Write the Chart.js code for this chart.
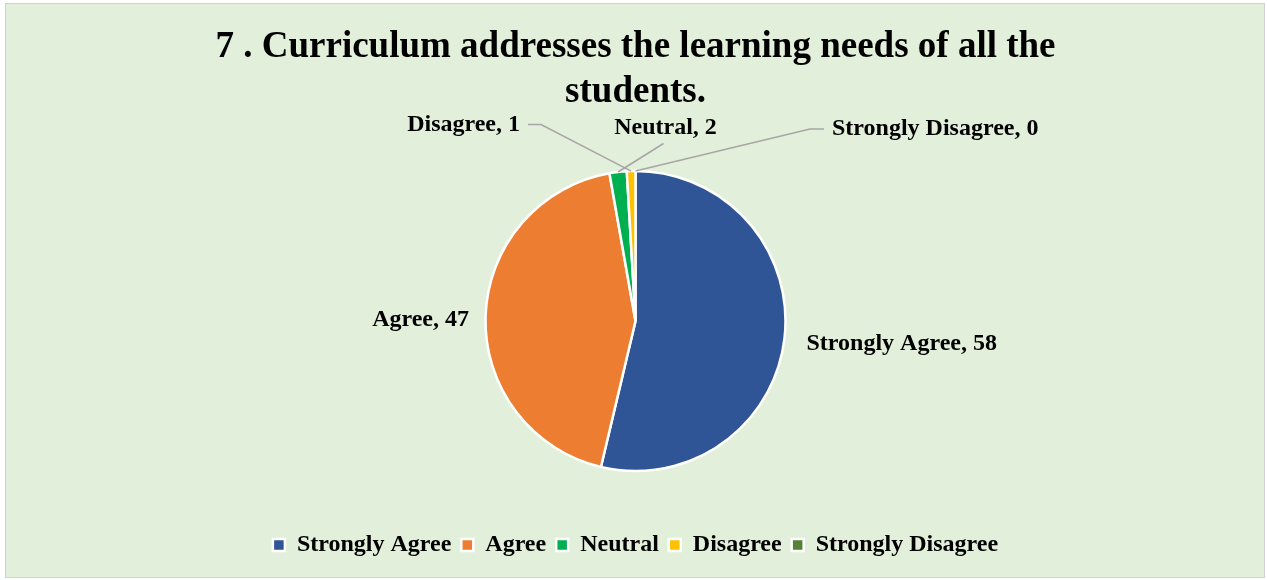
<!DOCTYPE html>
<html>
<head>
<meta charset="utf-8">
<script src="https://cdn.jsdelivr.net/npm/chart.js@4"></script>
<style>
  body { margin: 0; background: #fff; }
  #frame { position: absolute; left: 5px; top: 3px; width: 1258px; height: 573px; background: #E2EFDA; border: 1px solid #d2d2d2; }
  #pie { position: absolute; left: 0; top: 0; }
</style>
</head>
<body>
<div id="frame"></div>
<canvas id="pie" width="1267" height="580"></canvas>
<script>
var categorias = ['Strongly Agree', 'Agree', 'Neutral', 'Disagree', 'Strongly Disagree'];
var respostas  = [58, 47, 2, 1, 0];
var cores      = ['#2F5597', '#ED7D31', '#00B050', '#FFC000', '#548235'];
var titulo     = ['7 . Curriculum addresses the learning needs of all the', 'students.'];

// onde fica cada rotulo, em raios a partir do centro da pizza
var spots = [
  { dx: 1.14,  dy: 0.15,  align: 'left',   leader: false },
  { dx: -1.11, dy: -0.01, align: 'right',  leader: false },
  { dx: 0.20,  dy: -1.29, align: 'center', leader: true },
  { dx: -0.77, dy: -1.31, align: 'right',  leader: true },
  { dx: 1.31,  dy: -1.28, align: 'left',   leader: true }
];

var fonte = '"Liberation Serif", "Times New Roman", serif';

// Rotulos "Categoria, valor" com linhas de chamada
var rotulos = {
  id: 'rotulos',
  afterDatasetsDraw: function(chart) {
    var ctx = chart.ctx;
    var meta = chart.getDatasetMeta(0);
    ctx.save();
    ctx.font = 'bold 24px ' + fonte;
    ctx.textBaseline = 'middle';
    meta.data.forEach(function(arc, i) {
      var p = arc.getProps(['x', 'y', 'startAngle', 'endAngle', 'outerRadius'], true);
      var r = p.outerRadius;
      var mid = (p.startAngle + p.endAngle) / 2;
      var ax = p.x + Math.cos(mid) * r;
      var ay = p.y + Math.sin(mid) * r;
      var s = spots[i];
      var lx = p.x + s.dx * r;
      var ly = p.y + s.dy * r;

      if (s.leader) {
        ctx.strokeStyle = '#A6A6A6';
        ctx.lineWidth = 1.5;
        ctx.beginPath();
        if (s.align == 'right') {
          ctx.moveTo(lx + 8, ly);
          ctx.lineTo(lx + 21, ly);
        } else if (s.align == 'left') {
          ctx.moveTo(lx - 8, ly);
          ctx.lineTo(lx - 22, ly);
        } else {
          ctx.moveTo(lx - 2, ly + 16);
        }
        ctx.lineTo(ax, ay);
        ctx.stroke();
      }

      ctx.fillStyle = '#000';
      ctx.textAlign = s.align;
      ctx.fillText(categorias[i] + ', ' + respostas[i], lx, ly);
    });
    ctx.restore();
  }
};

var ctx = document.getElementById('pie').getContext('2d');
var grafico = new Chart(ctx, {
  type: 'pie',
  data: {
    labels: categorias,
    datasets: [{
      data: respostas,
      backgroundColor: cores,
      borderColor: '#ffffff',
      borderWidth: 2.5,
      radius: 150
    }]
  },
  options: {
    responsive: false,
    animation: false,
    layout: { padding: { left: 4, right: 0, top: 0, bottom: 13 } },
    plugins: {
      title: {
        display: true,
        text: titulo,
        color: '#000',
        font: { family: fonte, size: 37, weight: 'bold', lineHeight: 1.216 },
        padding: { top: 24.5, bottom: 4.5 }
      },
      legend: {
        position: 'bottom',
        labels: {
          color: '#000',
          font: { family: fonte, size: 24, weight: 'bold' },
          boxWidth: 12,
          boxHeight: 12,
          padding: 10
        }
      },
      tooltip: { enabled: false }
    }
  },
  plugins: [rotulos]
});
</script>
</body>
</html>
